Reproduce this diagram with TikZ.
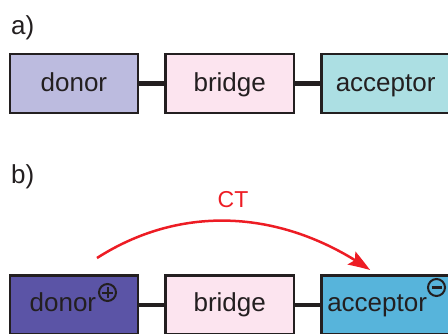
\documentclass[tikz,border=0pt]{standalone}
\usepackage{fontspec}
\setmainfont{Liberation Sans}
\usetikzlibrary{arrows.meta,bending}
\definecolor{edgecol}{HTML}{231F20}
\definecolor{donorpale}{HTML}{BCBBDF}
\definecolor{bridgepink}{HTML}{FCE4EF}
\definecolor{acceptorpale}{HTML}{ACDFE3}
\definecolor{donordark}{HTML}{5B54A6}
\definecolor{acceptorblue}{HTML}{57B4DB}
\definecolor{ctred}{HTML}{ED1C24}
\begin{document}
\begin{tikzpicture}[x=1pt,y=-1pt,
  unit/.style={draw=edgecol, line width=2.5pt, minimum width=128.3pt,
    minimum height=59pt, inner sep=0pt, text height=19pt, text depth=3pt,
    font=\fontsize{26pt}{30pt}\selectfont, text=edgecol},
  unitb/.style={unit, text depth=6pt},
  link/.style={draw=edgecol, line width=4.5pt},
  charge/.style={circle, draw=edgecol, line width=2pt, minimum size=17pt,
    inner sep=0pt},
  tag/.style={anchor=base west, inner sep=0pt,
    font=\fontsize{26pt}{30pt}\selectfont, text=edgecol},
  ct/.style={draw=ctred, line width=2.5pt}]
\useasboundingbox (0,0) rectangle (448,333);

% panel a: neutral donor-bridge-acceptor
\node[tag] (la) at (11,34) {a)};
\node[unit, fill=donorpale]    (da) at (73.9,83.5)   {donor};
\node[unit, fill=bridgepink]   (ba) at (229.75,83.5) {bridge};
\node[unit, fill=acceptorpale] (aa) at (385.65,83.5) {acceptor};
\draw[link] (da.east) -- (ba.west);
\draw[link] (ba.east) -- (aa.west);

% panel b: charge-separated state (text leaves room for the charge mark)
\node[tag] (lb) at (11,183) {b)};
\node[unitb, fill=donordark]    (db) at (73.9,305)   {donor\rule{22pt}{0pt}};
\node[unitb, fill=bridgepink]   (bb) at (229.75,305) {bridge};
\node[unitb, fill=acceptorblue] (ab) at (385.65,305) {acceptor\rule{17pt}{0pt}};
\draw[link] (db.east) -- (bb.west);
\draw[link] (bb.east) -- (ab.west);

\node[charge, path picture={
  \draw[edgecol, line width=2pt]
    ([xshift=-5.5pt]path picture bounding box.center) -- ++(11pt,0pt)
    ([yshift=-5.5pt]path picture bounding box.center) -- ++(0pt,11pt);}]
  (plus) at (107.5,292.5) {};
\node[charge, path picture={
  \draw[edgecol, line width=2.5pt]
    ([xshift=-5pt]path picture bounding box.center) -- ++(10pt,0pt);}]
  (minus) at (436.5,287.5) {};

% charge transfer arrow
\coordinate (ctstart) at (97,258);
\coordinate (ctend) at (370,270);
\draw[ct, -{Stealth[length=22pt, width=15pt, inset=4pt, bend]}]
  (ctstart) .. controls (183,203) and (284,210) .. (ctend);
\node[anchor=base, inner sep=0pt, text=ctred,
  font=\fontsize{23pt}{27pt}\selectfont] (ctlabel) at (233,207) {CT};
\end{tikzpicture}
\end{document}
